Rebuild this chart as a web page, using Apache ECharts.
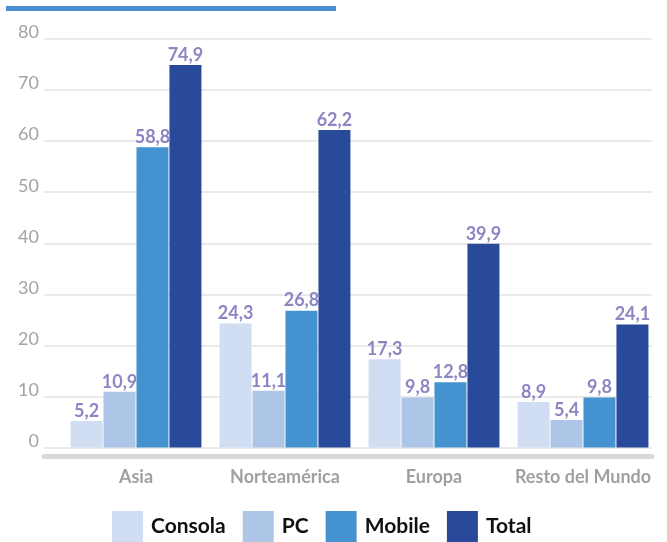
<!DOCTYPE html>
<html><head><meta charset="utf-8">
<script src="https://cdn.jsdelivr.net/npm/echarts@6/dist/echarts.min.js"></script>
<style>html,body{margin:0;padding:0;background:#fff}#c{width:667px;height:542px}</style>
</head><body><div id="c"></div>
<script>
const categories = ['Asia', 'Norteamérica', 'Europa', 'Resto del Mundo'];
const seriesNames = ['Consola', 'PC', 'Mobile', 'Total'];
const consola = [5.2, 24.3, 17.3, 8.9];
const pc = [10.9, 11.1, 9.8, 5.4];
const mobile = [58.8, 26.8, 12.8, 9.8];
const total = [74.9, 62.2, 39.9, 24.1];
const yTicks = [0, 10, 20, 30, 40, 50, 60, 70, 80];

const colors = ['#d1ddf3', '#adc6e7', '#4592d0', '#294a9b'];
const values = [consola, pc, mobile, total];
const FONT = 'Lato, "Noto Sans", sans-serif';

const chart = echarts.init(document.getElementById('c'));
chart.setOption({
  animation: false,
  color: colors,
  textStyle: { fontFamily: FONT },
  graphic: [{ type: 'rect', left: 6, top: 6, shape: { width: 330, height: 5 }, style: { fill: '#4a8fd2' } }],
  grid: [
    { left: 61.5, right: 9.5, top: 39, bottom: 94.5 },
    { left: 44, right: 15, top: 39, bottom: 94.5 },
    { left: 44, right: 15, top: 39, bottom: 85.5 }
  ],
  legend: {
    data: seriesNames, left: 112, top: 511, icon: 'rect', padding: 0,
    itemWidth: 31, itemHeight: 31, itemGap: 17,
    textStyle: { fontFamily: FONT, fontWeight: 'bold', fontSize: 21, color: '#111', padding: [0, 0, 0, 3] }
  },
  xAxis: [
    { type: 'category', gridIndex: 0, data: categories,
      axisLine: { show: false }, axisTick: { show: false },
      axisLabel: { interval: 0, hideOverlap: false, margin: 21, fontFamily: FONT, fontWeight: 'bold', fontSize: 18, color: '#a0a0a0' } },
    { type: 'value', gridIndex: 1, min: 0, max: 1, show: false },
    { type: 'value', gridIndex: 2, min: 0, max: 1,
      axisLine: { show: true, lineStyle: { color: '#d9d9d9', width: 5 } },
      axisTick: { show: false }, axisLabel: { show: false }, splitLine: { show: false } }
  ],
  yAxis: [
    { type: 'value', gridIndex: 0, min: 0, max: 80, interval: 10, show: false },
    { type: 'value', gridIndex: 1, min: 0, max: 80, interval: 10,
      axisLine: { show: false }, axisTick: { show: false },
      splitLine: { lineStyle: { color: '#e3e3e3', width: 1.5 } },
      axisLabel: { margin: 5, verticalAlign: 'bottom', lineHeight: 13, fontFamily: FONT, fontSize: 18, color: '#a3a3a3',
        formatter: v => yTicks.includes(v) ? String(v) : '' } },
    { type: 'value', gridIndex: 2, min: 0, max: 1, show: false }
  ],
  series: seriesNames.map((name, i) => ({
    name, type: 'bar', xAxisIndex: 0, yAxisIndex: 0,
    data: values[i], barWidth: 32, barGap: '3%', barCategoryGap: '12%',
    itemStyle: { color: colors[i] },
    label: { show: true, position: 'top', distance: 1, fontFamily: FONT, fontWeight: 'bold', fontSize: 18, color: '#8c86c2',
      formatter: p => p.value.toFixed(1).replace('.', ',') }
  }))
});
</script></body></html>
